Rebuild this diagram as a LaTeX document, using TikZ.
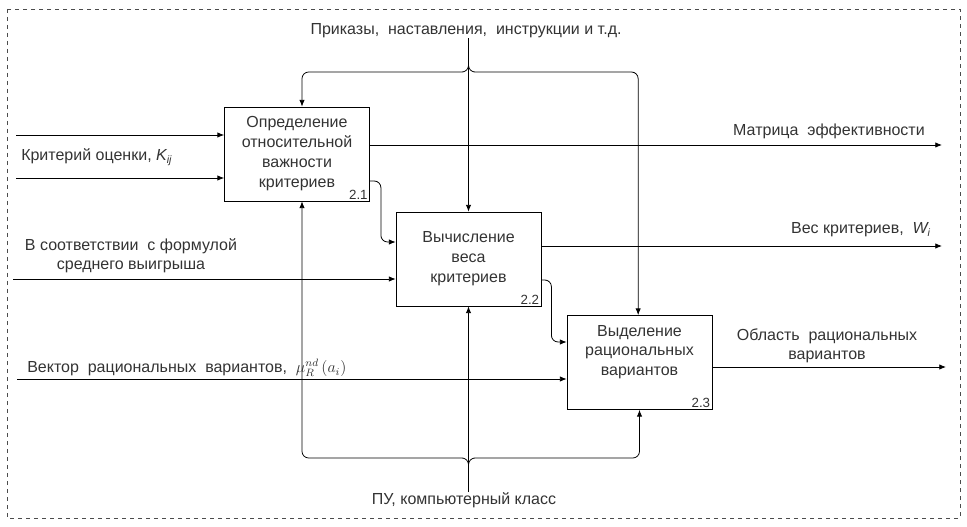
\documentclass[tikz,border=0pt]{standalone}
\usepackage{fontspec}
\setmainfont{Liberation Sans}
\usetikzlibrary{arrows.meta, positioning}

\begin{document}
\begin{tikzpicture}[x=0.75pt, y=-0.75pt,
  block/.style={draw, line width=0.6pt, minimum width=108.75pt, minimum height=70.5pt,
                align=center, inner sep=0pt, font=\fontsize{12}{15}\selectfont, text=black!80},
  arrow/.style={-{Latex[length=5pt,width=4pt]}, line width=0.6pt},
  lbl/.style={font=\fontsize{12}{14.5}\selectfont, text=black!80, inner sep=0pt, align=center},
  num/.style={font=\fontsize{10}{12}\selectfont, text=black!80, inner sep=1.5pt}]

  \useasboundingbox (0,0) rectangle (967,527);
  \draw[dashed, line width=0.6pt, black!70] (7,9) rectangle (960,518);

  \node[block] (opr)  at (297,154)     {Определение\\относительной\\важности\\критериев};
  \node[block] (vych) at (468.5,259)   {Вычисление\\веса\\критериев};
  \node[block] (vyd)  at (639.5,362.5) {};
  \node[lbl]   (vydtxt) at (639.5,352) {Выделение\\рациональных\\вариантов};
  \node[num, anchor=south east] (n1) at (opr.south east)  {2.1};
  \node[num, anchor=south east] (n2) at (vych.south east) {2.2};
  \node[num, anchor=south east] (n3) at (vyd.south east)  {2.3};

  % controls and mechanisms
  \node[lbl] (prik) at (466,31)  {Приказы,\ \ наставления,\ \ инструкции и т.д.};
  \node[lbl] (pu)   at (464,500) {ПУ, компьютерный класс};
  \coordinate (ctop) at (468.5,72);
  \coordinate (cbot) at (468.5,458);

  \draw[arrow] (prik.south -| vych.north) -- (vych.north);
  \draw[arrow, rounded corners=5pt] ([yshift=4.5pt]ctop) |- ([xshift=-9pt]ctop) -| ([xshift=3.75pt]opr.north);
  \draw[arrow, rounded corners=5pt] ([yshift=4.5pt]ctop) |- ([xshift=9pt]ctop) -| ([xshift=-1pt]vyd.north);
  \draw[arrow] (pu.north -| vych.south) -- (vych.south);
  \draw[arrow, rounded corners=5pt] ([yshift=-4.5pt]cbot) |- ([xshift=-9pt]cbot) -| ([xshift=3.75pt]opr.south);
  \draw[arrow, rounded corners=5pt] ([yshift=-4.5pt]cbot) |- ([xshift=9pt]cbot) -| (vyd.south);

  % inputs
  \coordinate (i1) at (16,135);
  \coordinate (i2) at (16,178);
  \coordinate (i3) at (13,279);
  \coordinate (i4) at (17,379);
  \draw[arrow] (i1) -- (i1 -| opr.west);
  \draw[arrow] (i2) -- (i2 -| opr.west);
  \draw[arrow] (i3) -- (i3 -| vych.west);
  \draw[arrow] (i4) -- (i4 -| vyd.west);
  \node[lbl, anchor=west] (krit) at (21,157) {Критерий оценки, \textit{K\textsubscript{ij}}};
  \node[lbl] (form) at (131,256) {В соответствии\ \ с формулой\\среднего выигрыша};
  \node[lbl, anchor=west] (vekt) at (27,368) {Вектор\ \ рациональных\ \ вариантов,\ \ $\mu_R^{nd}\,(a_i)$};

  % outputs
  \coordinate (o1) at (942,145);
  \coordinate (o2) at (942,246);
  \coordinate (o3) at (946,367);
  \draw[arrow] (o1 -| opr.east)  -- (o1);
  \draw[arrow] (o2 -| vych.east) -- (o2);
  \draw[arrow] (o3 -| vyd.east)  -- (o3);
  \node[lbl, anchor=east] (matr) at (925,131) {Матрица\ \ эффективности};
  \node[lbl, anchor=east] (ves)  at (931,230) {Вес критериев,\ \ \textit{W\textsubscript{i}}};
  \node[lbl] (obl) at (827,346) {Область\ \ рациональных\\вариантов};

  % box to box
  \draw[arrow, rounded corners=5pt] (opr.east |- 0,181) -- ++(11,0) |- (vych.west |- 0,242);
  \draw[arrow, rounded corners=5pt] (vych.east |- 0,280) -- ++(10,0) |- (vyd.west |- 0,342);
\end{tikzpicture}
\end{document}
